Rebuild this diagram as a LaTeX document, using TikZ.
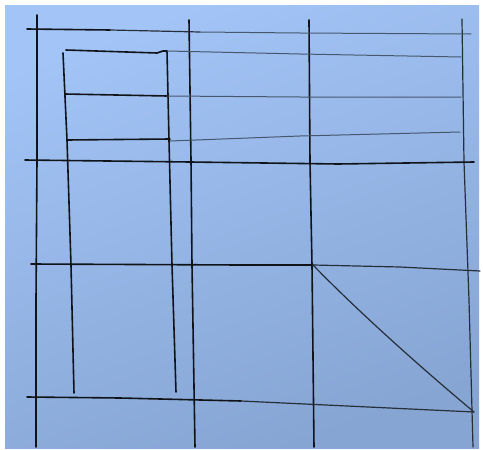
\documentclass[tikz,border=0pt]{standalone}
\definecolor{paperTop}{HTML}{A2C4F6}
\definecolor{paperBot}{HTML}{86A5D3}
\definecolor{inkc}{HTML}{101418}
\begin{document}
\begin{tikzpicture}[x=1pt,y=-1pt,
  ink/.style={line width=1.6pt, inkc, line cap=round, line join=round},
  midink/.style={line width=1.2pt, inkc!85!paperTop, line cap=round, line join=round},
  faint/.style={line width=1pt, inkc!62!paperTop, line cap=round, line join=round}]
\useasboundingbox (0,0) rectangle (483,450);
\fill[white] (0,0) rectangle (483,450);
\shade[top color=paperTop, bottom color=paperBot, shading angle=20] (5,5) rectangle (479,448);
% long verticals
\draw[ink] (37,15) -- (37,160) -- (36,300) -- (36,447);
\draw[ink] (189,20) -- (191,160) -- (192,265) -- (195,447);
\draw[ink] (309,20) -- (310,162) -- (312,265) -- (314,447);
\draw[midink] (462,19) -- (464,162) -- (469,300) -- (473,447);
% inner verticals
\draw[ink] (63,53) -- (67,140) -- (71,265) -- (74,393);
\draw[ink] (167,51) -- (169,140) -- (172,265) -- (176,392);
% horizontals
\draw[ink] (27,29) -- (110,30);
\draw[midink] (110,30) -- (200,32);
\draw[faint] (200,32) -- (300,33) -- (471,34);
\draw[ink] (66,50) -- (157,53) -- (163,51) -- (167,51);
\draw[faint] (167,51) -- (300,54) -- (461,57);
\draw[ink] (65,94) -- (167,96);
\draw[faint] (167,96) -- (300,97) -- (461,97);
\draw[ink] (67,140) -- (170,139);
\draw[faint] (170,141) -- (300,136) -- (460,132);
\draw[ink] (25,160) -- (190,162) -- (338,164) -- (474,162);
\draw[ink] (31,264) -- (240,265) -- (313,265);
\draw[midink] (313,265) -- (400,267) -- (480,271);
\draw[ink] (27,397) -- (120,398) -- (241,401);
\draw[midink] (241,401) -- (474,412);
% diagonal
\draw[midink] (313,265) .. controls (345,298) and (400,350) .. (474,412);
\end{tikzpicture}
\end{document}
